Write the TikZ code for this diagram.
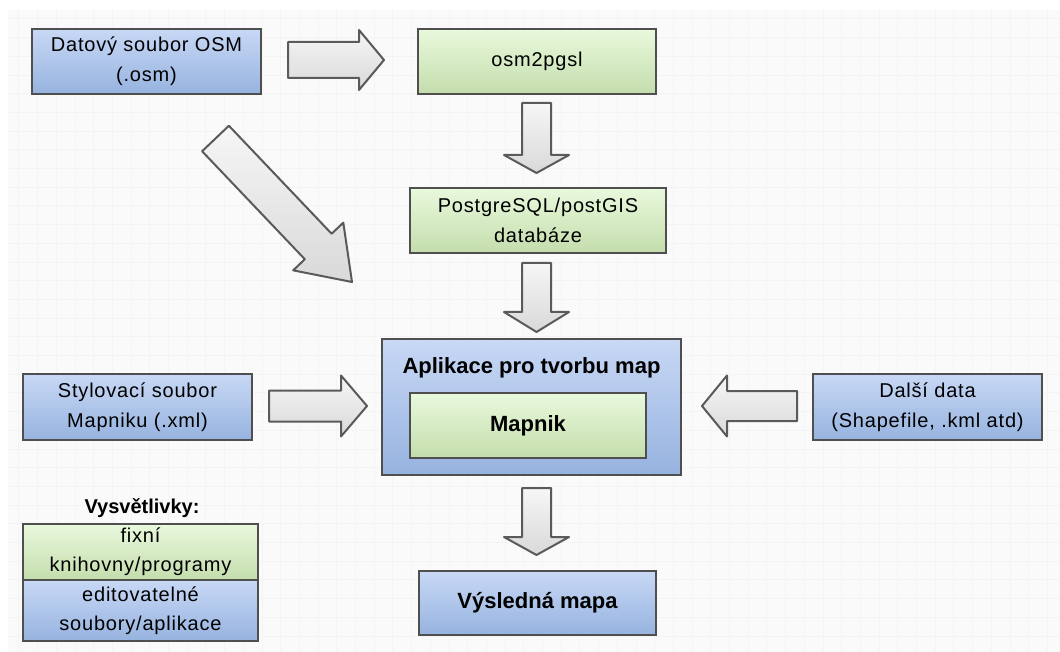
\documentclass[tikz,border=0pt]{standalone}
\usepackage{fontspec}
\setmainfont{Liberation Sans}[LetterSpace=4]
\newfontfamily\headfont{Liberation Sans}
\usetikzlibrary{calc}

\definecolor{boxline}{HTML}{4F4F4F}
\definecolor{arrowline}{HTML}{5A5A5A}
\definecolor{blueTop}{HTML}{C8D8F5}
\definecolor{blueBot}{HTML}{96B3DF}
\definecolor{greenTop}{HTML}{E9F9DD}
\definecolor{greenBot}{HTML}{C4DDAC}
\definecolor{arrowTop}{HTML}{F6F6F6}
\definecolor{arrowBot}{HTML}{D9D9D9}
\definecolor{bgfill}{HTML}{FAFAFA}
\definecolor{gridline}{HTML}{F4F4F4}

\tikzset{
	box/.style={draw=boxline, line width=2.4pt, align=center, inner sep=0pt,
		font=\fontsize{20}{30}\selectfont},
	bluebox/.style={box, top color=blueTop, bottom color=blueBot},
	greenbox/.style={box, top color=greenTop, bottom color=greenBot},
	heading/.style={font=\headfont\bfseries\fontsize{22}{26}\selectfont},
	blk/.style={draw=arrowline, line width=2pt, line join=round,
		top color=arrowTop, bottom color=arrowBot}
}

% block arrow: from, to, half shaft, half head, head length
\newcommand{\blockarrow}[5]{
	\coordinate (hb) at ($(#2)!#5!(#1)$);
	\draw[blk] ($(#1)!#3!90:(#2)$) -- ($(hb)!#3!90:(#2)$) -- ($(hb)!#4!90:(#2)$)
		-- (#2) -- ($(hb)!#4!-90:(#2)$) -- ($(hb)!#3!-90:(#2)$)
		-- ($(#1)!#3!-90:(#2)$) -- cycle;
}

\begin{document}
\begin{tikzpicture}[x=1pt, y=-1pt]
	\useasboundingbox (0,0) rectangle (1060,652);
	\fill[bgfill] (8,10) rectangle (1060,652);
	\draw[gridline, line width=0.5pt, step=18.7pt] (8,10) grid (1060,652);
	
	\node[bluebox, minimum width=229pt, minimum height=65pt] (osm) at (146.5, 61.5) {Datový soubor OSM\\(.osm)};
	\node[greenbox, minimum width=238pt, minimum height=65pt] (osmpg) at (537, 61.5) {osm2pgsl};
	\node[greenbox, minimum width=256pt, minimum height=65pt] (pgis) at (538, 220.5) {PostgreSQL/postGIS\\databáze};
	\node[bluebox, minimum width=229pt, minimum height=66pt] (styl) at (137.5, 407) {Stylovací soubor\\Mapniku (.xml)};
	\node[bluebox, minimum width=299pt, minimum height=136pt] (app) at (531.5, 407) {};
	\node[heading] (apptitle) at (531.5, 368) {Aplikace pro tvorbu map};
	\node[greenbox, heading, minimum width=236pt, minimum height=65pt] (mapnik) at (528, 425.5) {Mapnik};
	\node[bluebox, minimum width=229pt, minimum height=66pt] (dalsi) at (927.5, 407) {Další data\\(Shapefile, .kml atd)};
	\node[bluebox, heading, minimum width=237pt, minimum height=64pt] (vysl) at (537.5, 603) {Výsledná mapa};
	
	\node[font=\headfont\bfseries\fontsize{20}{24}\selectfont] (legtitle) at (142, 508) {Vysvětlivky:};
	\node[greenbox, minimum width=235pt, minimum height=56pt, font=\fontsize{20}{29}\selectfont] (legfix) at (140.5, 552) {fixní\\knihovny/programy};
	\node[bluebox, minimum width=235pt, minimum height=61pt, font=\fontsize{20}{29}\selectfont] (legedit) at (140.5, 610.5) {editovatelné\\soubory/aplikace};
	
	\coordinate (a1s) at (288, 60);    \coordinate (a1e) at (384, 60);
	\coordinate (a2s) at (536.5, 103); \coordinate (a2e) at (536.5, 173);
	\coordinate (a3s) at (536.5, 263); \coordinate (a3e) at (536.5, 332);
	\coordinate (a4s) at (536.5, 488); \coordinate (a4e) at (536.5, 555);
	\coordinate (a5s) at (215.5, 138.5); \coordinate (a5e) at (352, 282);
	\coordinate (a6s) at (269, 406);   \coordinate (a6e) at (367, 406);
	\coordinate (a7s) at (797, 406);   \coordinate (a7e) at (702, 406);
	
	\blockarrow{a1s}{a1e}{18pt}{30pt}{25pt}
	\blockarrow{a2s}{a2e}{14.5pt}{32.5pt}{18pt}
	\blockarrow{a3s}{a3e}{14.5pt}{32.5pt}{20pt}
	\blockarrow{a4s}{a4e}{14.5pt}{32.5pt}{18pt}
	\blockarrow{a5s}{a5e}{18.5pt}{34.6pt}{49pt}
	\blockarrow{a6s}{a6e}{15.5pt}{30.5pt}{26pt}
	\blockarrow{a7s}{a7e}{15pt}{30.5pt}{25pt}
	
\end{tikzpicture}
\end{document}
